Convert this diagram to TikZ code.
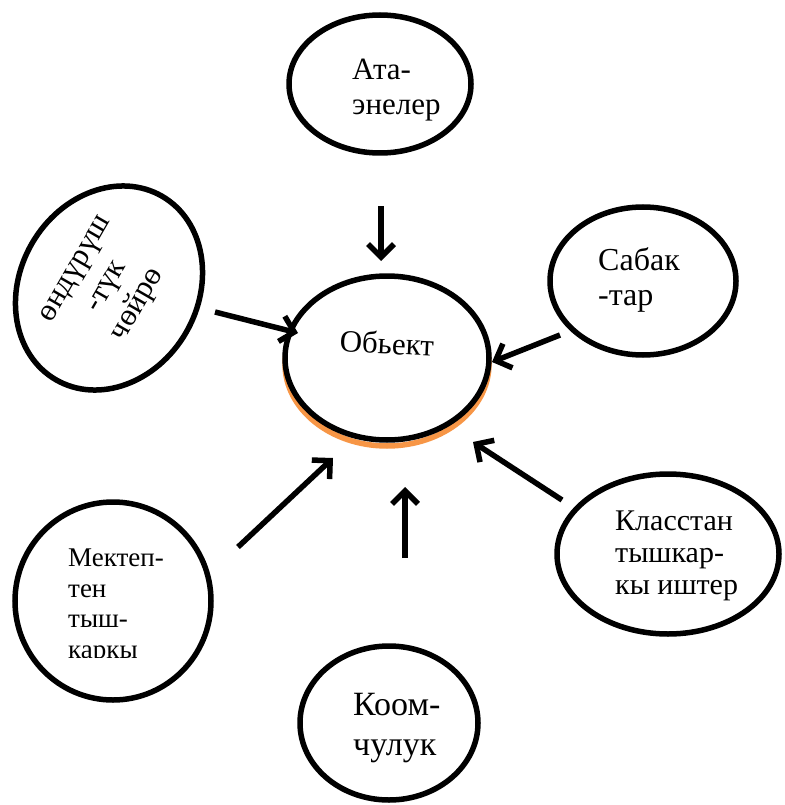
\documentclass[tikz,border=0pt]{standalone}
\usepackage{fontspec}
\setmainfont{Liberation Serif}
\usetikzlibrary{arrows.meta,shapes.geometric}
\definecolor{shadeorange}{RGB}{247,150,70}
\begin{document}
\begin{tikzpicture}[x=1pt,y=-1pt,
  bub/.style={draw=black, line width=5.5pt, ellipse, inner sep=0pt, fill=white},
  lbl/.style={inner sep=0pt, align=left, anchor=west},
  arr/.style={line width=5.5pt, -{Straight Barb[length=13pt,width=26pt]}}]
\useasboundingbox (0,0) rectangle (784,805);
% bubbles
\node[bub, minimum width=182pt, minimum height=138pt] (ata) at (380,84) {};
\node[bub, minimum width=186pt, minimum height=148pt] (sab) at (643,281) {};
\node[bub, minimum width=222pt, minimum height=160pt] (kls) at (668,554) {};
\node[bub, minimum width=196pt, minimum height=198pt] (mek) at (113,601) {};
\node[bub, minimum width=178pt, minimum height=154pt] (koom) at (389,723) {};
\node[draw=shadeorange, line width=5.5pt, ellipse, inner sep=0pt, minimum width=204pt, minimum height=164pt] (objsh) at (387,364) {};
\node[bub, minimum width=204pt, minimum height=164pt] (obj) at (387,358) {};
\node[bub, rotate=60, minimum width=212pt, minimum height=178pt, align=center,
      font=\fontsize{31}{36}\selectfont] (ond) at (109,288) {өндүрүш\\-түк\\чөйрө};
% labels
\node[lbl, font=\fontsize{31}{35}\selectfont] (ataT) at (352,90) {Ата-\\энелер};
\node[lbl, font=\fontsize{32}{35}\selectfont] (sabT) at (598,280) {Сабак\\-тар};
\node[lbl, font=\fontsize{30}{32}\selectfont] (klsT) at (615,556) {Класстан\\тышкар-\\кы иштер};
\begin{scope}
\clip (0,480) rectangle (240,657);
\node[lbl, anchor=north west, font=\fontsize{27}{30.5}\selectfont] (mekT) at (68,549) {Мектеп-\\тен\\тыш-\\каркы};
\end{scope}
\node[lbl, font=\fontsize{34}{40}\selectfont] (koomT) at (353,728) {Коом-\\чулук};
\node[inner sep=0pt, rotate=-3, font=\fontsize{31}{34}\selectfont] (objT) at (387,343) {Обьект};
% arrows
\coordinate (a1s) at (381,206); \coordinate (a1e) at (381,261);
\coordinate (a2s) at (215,312); \coordinate (a2e) at (298,333);
\coordinate (a3s) at (560,335); \coordinate (a3e) at (492,362);
\coordinate (a4s) at (562,500); \coordinate (a4e) at (473,442);
\coordinate (a5s) at (405,558); \coordinate (a5e) at (405,487);
\coordinate (a6s) at (238,547); \coordinate (a6e) at (333,458);
\draw[arr] (a1s) -- (a1e);
\draw[arr] (a2s) -- (a2e);
\draw[arr] (a3s) -- (a3e);
\draw[arr] (a4s) -- (a4e);
\draw[arr] (a5s) -- (a5e);
\draw[arr] (a6s) -- (a6e);
\end{tikzpicture}
\end{document}
